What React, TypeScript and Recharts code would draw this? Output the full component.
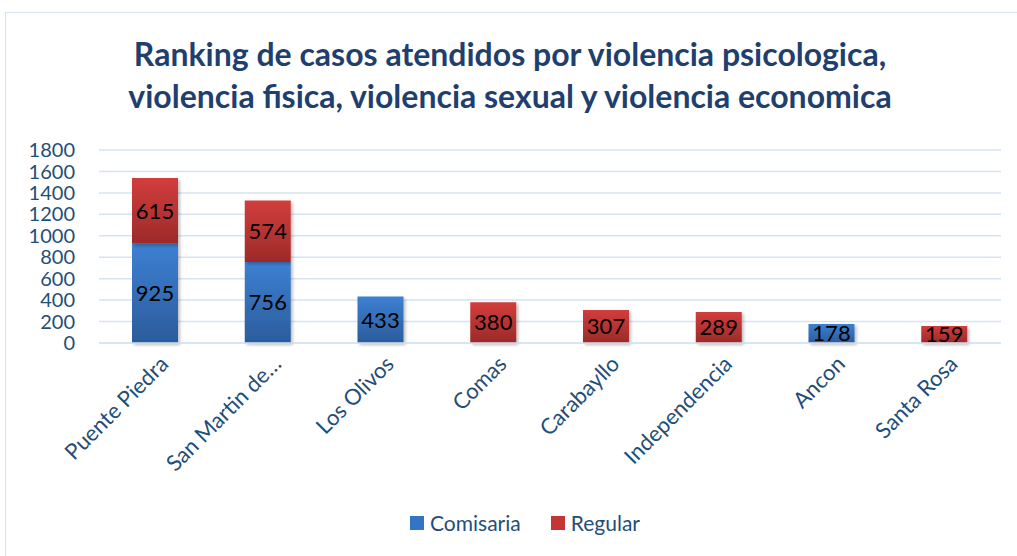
import { BarChart, Bar, XAxis, YAxis, CartesianGrid, LabelList } from 'recharts'

const categories = ['Puente Piedra', 'San Martin de…', 'Los Olivos', 'Comas', 'Carabayllo', 'Independencia', 'Ancon', 'Santa Rosa']
const comisaria = [925, 756, 433, null, null, null, 178, null]
const regular = [615, 574, null, 380, 307, 289, null, 159]
const yTicks = [0, 200, 400, 600, 800, 1000, 1200, 1400, 1600, 1800]

const data = categories.map((name, i) => ({ name, comisaria: comisaria[i], regular: regular[i] }))

const FONT = 'Lato, "Open Sans", sans-serif'
const AXIS_COLOR = '#1f4e79'

function AngledTick(props: any) {
  const { x, y, payload } = props
  return (
    <g transform={`translate(${x + 2},${y + 2})`}>
      <text transform="rotate(-45)" textAnchor="end" dominantBaseline="hanging" fill={AXIS_COLOR} fontSize={22} fontFamily={FONT}>
        {payload.value}
      </text>
    </g>
  )
}

function LegendBox() {
  const items = [
    { label: 'Comisaria', color: '#3474c4' },
    { label: 'Regular', color: '#c43534' },
  ]
  return (
    <div style={{ position: 'absolute', left: 15, top: 510, width: 1020, display: 'flex', justifyContent: 'center', gap: 30, fontFamily: FONT, fontSize: 21, color: AXIS_COLOR }}>
      {items.map((it) => (
        <span key={it.label} style={{ display: 'flex', alignItems: 'center', gap: 6 }}>
          <span style={{ width: 14, height: 14, background: it.color, display: 'inline-block' }} />
          {it.label}
        </span>
      ))}
    </div>
  )
}

export default function App() {
  return (
    <div style={{ position: 'absolute', left: 0, top: 0, width: 1017, height: 556, background: '#fff', overflow: 'hidden' }}>
      <div style={{ position: 'absolute', left: 5, top: 12, width: 1030, height: 560, border: '1.5px solid #d3e1f2', boxSizing: 'border-box' }} />
      <div style={{ position: 'absolute', left: 0, top: 33, width: 1020, textAlign: 'center', fontFamily: FONT, fontWeight: 700, fontSize: 32, lineHeight: '42px', color: '#1f3f6e' }}>
        Ranking de casos atendidos por violencia psicologica,<br />
        violencia fisica, violencia sexual y violencia economica
      </div>
      <BarChart width={1017} height={556} data={data} margin={{ top: 150, right: 16, left: 0, bottom: 0 }} barSize={46}>
        <defs>
          <linearGradient id="gBlue" x1="0" y1="0" x2="0" y2="1">
            <stop offset="0%" stopColor="#3d80d2" />
            <stop offset="100%" stopColor="#2b5c9c" />
          </linearGradient>
          <linearGradient id="gRed" x1="0" y1="0" x2="0" y2="1">
            <stop offset="0%" stopColor="#d23d3c" />
            <stop offset="100%" stopColor="#9c2a29" />
          </linearGradient>
          <filter id="shadow" x="-10%" y="-10%" width="130%" height="130%">
            <feDropShadow dx="2" dy="2" stdDeviation="1.5" floodColor="#000" floodOpacity="0.25" />
          </filter>
        </defs>
        <CartesianGrid vertical={false} stroke="#d6e3f3" strokeWidth={1.5} />
        <XAxis dataKey="name" interval={0} tick={<AngledTick />} tickLine={false} axisLine={{ stroke: '#d6e3f3', strokeWidth: 1.5 }} height={213} />
        <YAxis domain={[0, 1800]} ticks={yTicks} interval={0} width={99} tickSize={0} tickMargin={24} tickLine={false} axisLine={false}
          tick={{ fill: AXIS_COLOR, fontSize: 20, fontFamily: FONT }} />
        <Bar dataKey="comisaria" stackId="a" fill="url(#gBlue)" filter="url(#shadow)" isAnimationActive={false}>
          <LabelList dataKey="comisaria" position="center" fill="#000" fontSize={22} fontFamily={FONT} />
        </Bar>
        <Bar dataKey="regular" stackId="a" fill="url(#gRed)" filter="url(#shadow)" isAnimationActive={false}>
          <LabelList dataKey="regular" position="center" fill="#000" fontSize={22} fontFamily={FONT} />
        </Bar>
      </BarChart>
      <LegendBox />
    </div>
  )
}
